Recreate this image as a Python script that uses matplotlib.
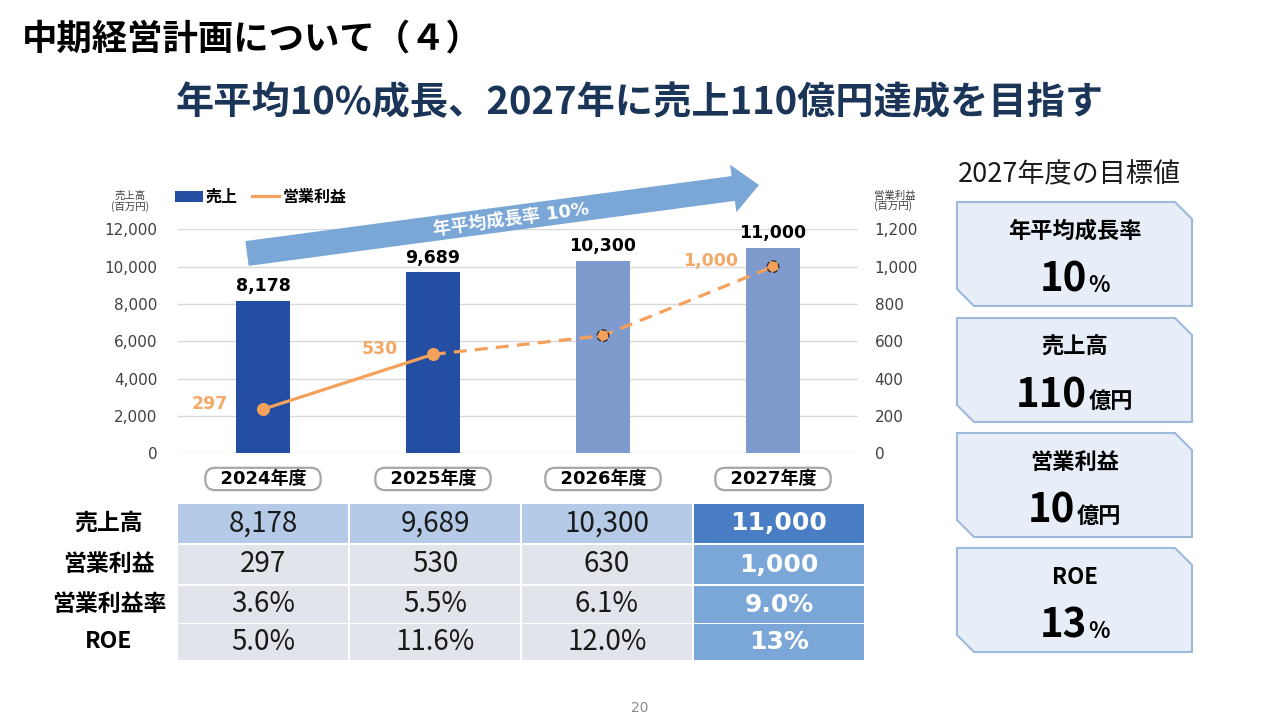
import matplotlib
matplotlib.use("Agg")
import matplotlib.pyplot as plt
from matplotlib.patches import Rectangle, Polygon, FancyArrow, Patch
from matplotlib.lines import Line2D
from matplotlib.offsetbox import TextArea, HPacker, AnnotationBbox
import numpy as np

plt.rcParams['font.family'] = ['Noto Sans CJK JP', 'DejaVu Sans']

# ---------------- data ----------------
years = ["2024年度", "2025年度", "2026年度", "2027年度"]
sales = [8178, 9689, 10300, 11000]
op_profit_plot = [236, 530, 630, 1000]          # marker positions as drawn
op_labels = ["297", "530", "", "1,000"]
bar_colors = ["#234EA2", "#234EA2", "#7F9BCD", "#7F9BCD"]

row_labels = ["売上高", "営業利益", "営業利益率", "ROE"]
table_vals = [
    ["8,178", "9,689", "10,300", "11,000"],
    ["297", "530", "630", "1,000"],
    ["3.6%", "5.5%", "6.1%", "9.0%"],
    ["5.0%", "11.6%", "12.0%", "13%"],
]

target_labels = ["年平均成長率", "売上高", "営業利益", "ROE"]
target_nums = ["10", "110", "10", "13"]
target_units = ["%", "億円", "億円", "%"]

title = "中期経営計画について（４）"
subtitle = "年平均10%成長、2027年に売上110億円達成を目指す"
arrow_text = "年平均成長率 10%"

NUMFONT = ['DejaVu Sans', 'Noto Sans CJK JP']
ORANGE = "#F4A15C"
ORANGE_TXT = "#F3AA68"

W, H = 1280, 720
fig = plt.figure(figsize=(12.8, 7.2), dpi=100)

# ---------------- chart ----------------
ax = fig.add_axes([178 / W, (H - 453.3) / H, 680 / W, 224 / H])
x = np.arange(len(years))
bars = ax.bar(x, sales, width=0.314, color=bar_colors, zorder=2)
ax.set_xlim(-0.5, 3.5)
ax.set_ylim(0, 12000)
ax.set_yticks(range(0, 12001, 2000))
ax.set_yticklabels([f"{v:,}" for v in range(0, 12001, 2000)], family=NUMFONT)
ax.tick_params(axis='y', length=0, pad=15, labelsize=11, labelcolor='#404040')
ax.grid(axis='y', color='#D9D9D9', lw=1)
ax.set_axisbelow(True)
for s in ax.spines.values():
    s.set_visible(False)
ax.set_xticks(x)
ax.set_xticklabels(["  " + y + "  " for y in years], family=NUMFONT,
                   fontsize=13, fontweight='bold', color='black')
ax.tick_params(axis='x', length=0, pad=12)
for lbl in ax.get_xticklabels():
    lbl.set_bbox(dict(boxstyle='round,pad=0.12,rounding_size=0.55',
                      fc='white', ec='#A6A6A6', lw=1.6))

ax.bar_label(bars, labels=[f"{v:,}" for v in sales], padding=4,
             fontsize=12.5, fontweight='bold', family=NUMFONT, color='black')

ax2 = ax.twinx()
ax2.set_ylim(0, 1200)
ax2.set_yticks(range(0, 1201, 200))
ax2.set_yticklabels([f"{v:,}" for v in range(0, 1201, 200)], family=NUMFONT)
ax2.tick_params(axis='y', length=0, pad=12, labelsize=11, labelcolor='#404040')
for s in ax2.spines.values():
    s.set_visible(False)
ax2.plot(x[:2], op_profit_plot[:2], color=ORANGE, lw=2.3, solid_capstyle='round', zorder=3)
ax2.plot(x[1:], op_profit_plot[1:], color=ORANGE, lw=2.3, ls=(0, (4, 2.6)), zorder=3)
ax2.scatter(x[:2], op_profit_plot[:2], s=70, color=ORANGE, zorder=4)
ax2.scatter(x[2:], op_profit_plot[2:], s=70, color=ORANGE, edgecolors='#333333',
            linewidths=1.0, linestyles='--', zorder=4)
for xi, yi, lab in zip(x, op_profit_plot, op_labels):
    if lab:
        ax2.annotate(lab, (xi, yi), xytext=(-25, 4), textcoords='offset points',
                     ha='right', va='center', fontsize=12.5, fontweight='bold',
                     color=ORANGE_TXT, family=NUMFONT)

# legend
handles = [Patch(facecolor="#234EA2", edgecolor='none'),
           Line2D([0], [0], color=ORANGE, lw=2.3)]
fig.legend(handles, ["売上", "営業利益"], loc='center left',
           bbox_to_anchor=(169 / W, 1 - 197 / H), ncol=2, frameon=False,
           prop=dict(size=11.5, weight='bold'), handlelength=1.7,
           handletextpad=0.2, columnspacing=0.9, borderaxespad=0)

# ---------------- overlay ----------------
ov = fig.add_axes([0, 0, 1, 1], zorder=5)
ov.set_xlim(0, W)
ov.set_ylim(H, 0)
ov.axis('off')
ov.patch.set_alpha(0)

ov.text(130, 201, "売上高\n(百万円)", ha='center', va='center', fontsize=7.5,
        color='#404040', linespacing=1.0)
ov.text(874, 201, "営業利益\n(百万円)", ha='left', va='center', fontsize=7.5,
        color='#404040', linespacing=1.0)

# growth arrow
x0, y0, x1, y1 = 247, 253.5, 759, 185
ov.add_patch(FancyArrow(x0, y0, x1 - x0, y1 - y0, width=25, head_width=48,
                        head_length=26, length_includes_head=True,
                        fc='#7BA7D7', ec='none', zorder=1))
ang = np.degrees(np.arctan2(y0 - y1, x1 - x0))
ov.text(511, 220, arrow_text, rotation=ang, rotation_mode='anchor', ha='center',
        va='center', fontsize=13, fontweight='bold', color='white', family=NUMFONT)

# titles
ov.text(22, 40, title, fontsize=25.5, fontweight='bold', ha='left', va='center', color='black')
ov.text(640, 103, subtitle, fontsize=27.5, fontweight='bold', ha='center', va='center',
        color='#1B3558')
ov.text(640, 708, "20", fontsize=10, ha='center', va='center', color='#8C8C8C', family=NUMFONT)

# table
col_x = [178, 350, 522, 694]
col_w = 170
row_y = [504, 545, 586, 624]
row_h = [39, 39, 37, 36]
for r in range(4):
    ov.text(109, row_y[r] + row_h[r] / 2, row_labels[r], ha='center', va='center',
            fontsize=16.5, fontweight='bold', color='black')
    for c in range(4):
        if c == 3:
            fc = "#4A7EC4" if r == 0 else "#7BA6D8"
        else:
            fc = "#B4CAE6" if r == 0 else "#E1E4EA"
        ov.add_patch(Rectangle((col_x[c], row_y[r]), col_w, row_h[r], fc=fc, ec='none'))
        if c == 3:
            ov.text(col_x[c] + col_w / 2, row_y[r] + row_h[r] / 2, table_vals[r][c],
                    ha='center', va='center', fontsize=18, fontweight='bold',
                    color='white', family=NUMFONT)
        else:
            ov.text(col_x[c] + col_w / 2, row_y[r] + row_h[r] / 2, table_vals[r][c],
                    ha='center', va='center', fontsize=20, color='#1A1A1A')

# targets panel
ov.text(958, 175, "2027年度の目標値", ha='left', va='center', fontsize=19.5, color='#1A1A1A')
box_tops = [202, 318, 433, 548]
bh = 104
bx0, bx1 = 957, 1192
cc = 17
for i in range(4):
    t = box_tops[i]
    b = t + bh
    poly = [(bx0, t), (bx1 - cc, t), (bx1, t + cc), (bx1, b), (bx0 + cc, b), (bx0, b - cc)]
    ov.add_patch(Polygon(poly, closed=True, fc='#E8EEF8', ec='#9DB9DC', lw=1.5))
    cx = (bx0 + bx1) / 2
    ov.text(cx, t + 29, target_labels[i], ha='center', va='center', fontsize=16,
            fontweight='bold', color='black')
    num = TextArea(target_nums[i], textprops=dict(fontsize=29, fontweight='bold',
                                                  color='black', family='Noto Sans CJK JP'))
    unit = TextArea(target_units[i], textprops=dict(fontsize=16, fontweight='bold',
                                                    color='black', family='Noto Sans CJK JP'))
    pack = HPacker(children=[num, unit], align='baseline', pad=0, sep=1)
    ab = AnnotationBbox(pack, (cx, t + 78), xycoords='data', frameon=False,
                        box_alignment=(0.5, 0.5), pad=0)
    ov.add_artist(ab)

fig.savefig("out.png", dpi=100)
